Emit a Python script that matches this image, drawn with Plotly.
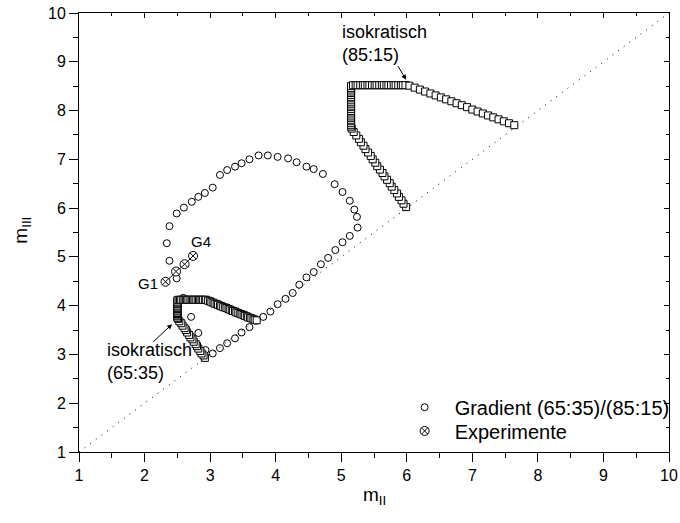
import plotly.graph_objects as go

# Gradient operating points (65:35)/(85:15): m_II, m_III
grad_m2 = [2.93, 2.82, 2.71, 2.59, 2.49, 2.38, 2.34, 2.38,
           2.49, 2.60, 2.72, 2.82, 2.92, 3.04, 3.15, 3.26, 3.38, 3.48, 3.60, 3.74,
           3.88, 4.03, 4.19, 4.32, 4.47, 4.58, 4.72, 4.90, 5.02, 5.13, 5.20, 5.24, 5.25,
           5.13, 5.02, 4.91, 4.80, 4.69, 4.58, 4.47, 4.36, 4.26, 4.15, 4.03, 3.92,
           3.81, 3.70, 3.60, 3.48, 3.38, 3.26, 3.15, 3.04]
grad_m3 = [3.09, 3.44, 3.77, 4.16, 4.56, 4.92, 5.28, 5.63,
           5.89, 6.01, 6.13, 6.23, 6.31, 6.42, 6.68, 6.78, 6.85, 6.92, 7.00, 7.08,
           7.08, 7.05, 7.02, 6.94, 6.85, 6.80, 6.70, 6.49, 6.33, 6.15, 5.97, 5.82, 5.60,
           5.43, 5.30, 5.14, 4.98, 4.85, 4.69, 4.58, 4.43, 4.26, 4.14, 4.03, 3.88,
           3.77, 3.69, 3.56, 3.45, 3.33, 3.23, 3.13, 3.02]

# Isocratic (85:15) operating points
iso85_m2 = [5.99, 5.95, 5.92, 5.88, 5.85, 5.81, 5.77, 5.74, 5.70, 5.66, 5.63, 5.59,
            5.55, 5.52, 5.48, 5.45, 5.41, 5.37, 5.34, 5.30, 5.27, 5.23, 5.19, 5.16,
            5.15, 5.15, 5.15, 5.15, 5.15, 5.15, 5.15, 5.15, 5.15, 5.15, 5.15, 5.15,
            5.15, 5.15, 5.15, 5.15, 5.15, 5.15, 5.15, 5.15, 5.15, 5.15, 5.15, 5.15,
            5.18, 5.22, 5.25, 5.29, 5.33, 5.36, 5.40, 5.43, 5.47, 5.51, 5.54, 5.58,
            5.62, 5.65, 5.69, 5.72, 5.76, 5.80, 5.83, 5.87, 5.91, 5.94, 5.98,
            6.04, 6.12, 6.20, 6.28, 6.36, 6.44, 6.52, 6.60, 6.68, 6.76, 6.84, 6.92,
            7.00, 7.08, 7.16, 7.24, 7.32, 7.40, 7.48, 7.56, 7.64]
iso85_m3 = [6.02, 6.09, 6.16, 6.23, 6.30, 6.37, 6.44, 6.51, 6.58, 6.65, 6.72, 6.79,
            6.86, 6.93, 7.00, 7.07, 7.14, 7.21, 7.28, 7.35, 7.42, 7.49, 7.56, 7.63,
            7.67, 7.70, 7.74, 7.78, 7.81, 7.85, 7.88, 7.92, 7.96, 7.99, 8.03, 8.07,
            8.10, 8.14, 8.17, 8.21, 8.25, 8.28, 8.32, 8.36, 8.39, 8.43, 8.46, 8.50,
            8.52, 8.52, 8.52, 8.52, 8.52, 8.52, 8.52, 8.52, 8.52, 8.52, 8.52, 8.52,
            8.52, 8.52, 8.52, 8.52, 8.52, 8.52, 8.52, 8.52, 8.52, 8.52, 8.52,
            8.51, 8.47, 8.43, 8.39, 8.35, 8.31, 8.27, 8.23, 8.19, 8.15, 8.11, 8.07,
            8.02, 7.98, 7.94, 7.90, 7.86, 7.82, 7.78, 7.74, 7.70]

# Isocratic (65:35) operating points
iso65_m2 = [2.92, 2.90, 2.87, 2.85, 2.82, 2.80, 2.78, 2.75, 2.73, 2.70, 2.68, 2.65,
            2.63, 2.61, 2.58, 2.56, 2.53, 2.51,
            2.50, 2.50, 2.50, 2.50, 2.50, 2.50, 2.50, 2.50, 2.50, 2.50, 2.50, 2.50,
            2.50, 2.50, 2.50,
            2.52, 2.54, 2.56, 2.59, 2.61, 2.63, 2.65, 2.67, 2.70, 2.72, 2.74, 2.76,
            2.78, 2.81, 2.83, 2.85, 2.87, 2.89, 2.92, 2.94,
            2.97, 3.00, 3.02, 3.05, 3.07, 3.10, 3.12, 3.15, 3.17, 3.20, 3.23, 3.25,
            3.28, 3.30, 3.33, 3.35, 3.38, 3.40, 3.43, 3.46, 3.48, 3.51, 3.53, 3.56,
            3.58, 3.61, 3.63, 3.66, 3.68, 3.71]
iso65_m3 = [2.93, 2.98, 3.02, 3.07, 3.12, 3.17, 3.21, 3.26, 3.31, 3.35, 3.40, 3.45,
            3.50, 3.54, 3.59, 3.64, 3.68, 3.73,
            3.75, 3.78, 3.80, 3.83, 3.85, 3.88, 3.90, 3.93, 3.95, 3.98, 4.00, 4.03,
            4.05, 4.08, 4.11,
            4.12, 4.12, 4.12, 4.12, 4.12, 4.12, 4.12, 4.12, 4.12, 4.12, 4.12, 4.12,
            4.12, 4.12, 4.12, 4.12, 4.12, 4.12, 4.12, 4.12,
            4.10, 4.09, 4.07, 4.06, 4.04, 4.03, 4.02, 4.00, 3.99, 3.97, 3.96, 3.95,
            3.93, 3.92, 3.90, 3.89, 3.88, 3.86, 3.85, 3.83, 3.82, 3.81, 3.79, 3.78,
            3.76, 3.75, 3.74, 3.72, 3.71, 3.70]

# Experimental runs G1..G4
exp_m2 = [2.32, 2.48, 2.61, 2.74]
exp_m3 = [4.49, 4.70, 4.85, 5.02]
exp_names = ["G1", "G2", "G3", "G4"]

# Diagonal m_II = m_III
diag = [1, 10]
axis_range = [1, 10]

FONT = "Liberation Sans, Arial, sans-serif"

fig = go.Figure()

fig.add_trace(go.Scatter(
    x=diag, y=diag, xaxis="x2", yaxis="y2", mode="lines",
    line=dict(color="black", width=1, dash="1px,6px"),
    showlegend=False, hoverinfo="skip"))

fig.add_trace(go.Scatter(
    x=grad_m2, y=grad_m3, mode="markers", name="Gradient (65:35)/(85:15)",
    legend="legend",
    marker=dict(symbol="circle", size=7, color="white",
                line=dict(color="black", width=1))))

fig.add_trace(go.Scatter(
    x=iso85_m2, y=iso85_m3, mode="markers", showlegend=False,
    marker=dict(symbol="square", size=7, color="white",
                line=dict(color="black", width=1))))

fig.add_trace(go.Scatter(
    x=iso65_m2, y=iso65_m3, mode="markers", showlegend=False,
    marker=dict(symbol="square", size=7, color="white",
                line=dict(color="black", width=1))))

# thin connector between the runs
fig.add_trace(go.Scatter(
    x=exp_m2, y=exp_m3, mode="lines", showlegend=False,
    line=dict(color="black", width=1), hoverinfo="skip"))

fig.add_trace(go.Scatter(
    x=exp_m2, y=exp_m3, mode="markers", name="Experimente",
    legend="legend2", text=exp_names,
    marker=dict(symbol="circle-x", size=9, color="white",
                line=dict(color="black", width=1))))

common = dict(range=axis_range, showgrid=False, zeroline=False,
              showline=True, linecolor="black", linewidth=1)

legend_style = dict(xanchor="left", yanchor="middle", itemwidth=50,
                    bgcolor="rgba(0,0,0,0)", font=dict(size=20, family=FONT))

fig.update_layout(
    width=680, height=523,
    margin=dict(l=79, r=11, t=13, b=71, autoexpand=False),
    paper_bgcolor="white", plot_bgcolor="white",
    font=dict(family=FONT, color="black"),
    xaxis=dict(**common, tickmode="array", tickvals=list(range(1, 11)),
               ticks="outside", ticklen=9, tickwidth=1, tickcolor="black",
               tickfont=dict(size=16, family=FONT),
               minor=dict(dtick=0.5, tick0=1, ticks="outside", ticklen=5,
                          tickwidth=1, tickcolor="black")),
    yaxis=dict(**common, tickmode="array", tickvals=list(range(1, 11)),
               ticks="outside", ticklen=9, tickwidth=1, tickcolor="black",
               tickfont=dict(size=16, family=FONT),
               minor=dict(dtick=0.5, tick0=1, ticks="outside", ticklen=5,
                          tickwidth=1, tickcolor="black")),
    xaxis2=dict(**common, overlaying="x", side="top", anchor="y2",
                showticklabels=False, dtick=1, tick0=1,
                ticks="inside", ticklen=5, tickwidth=1, tickcolor="black",
                minor=dict(dtick=0.5, tick0=1, ticks="inside", ticklen=3,
                           tickwidth=1, tickcolor="black")),
    yaxis2=dict(**common, overlaying="y", side="right", anchor="x2",
                showticklabels=False, dtick=1, tick0=1,
                ticks="inside", ticklen=5, tickwidth=1, tickcolor="black",
                minor=dict(dtick=0.5, tick0=1, ticks="inside", ticklen=3,
                           tickwidth=1, tickcolor="black")),
    legend=dict(**legend_style, x=0.535, y=0.102),
    legend2=dict(**legend_style, x=0.535, y=0.048),
    showlegend=True,
)

annotations = [
    # axis titles
    dict(text="m<sub>II</sub>", xref="paper", yref="paper", x=0.5, y=-0.1,
         showarrow=False, font=dict(size=19), xanchor="center", yanchor="middle"),
    dict(text="m<sub>III</sub>", xref="paper", yref="paper", x=-0.097, y=0.506,
         showarrow=False, font=dict(size=19), textangle=-90,
         xanchor="center", yanchor="middle"),
    # isocratic (85:15) label, arrow points at the plateau corner
    dict(text="isokratisch<br>(85:15)", x=5.99, y=8.63, ax=5.66, ay=9.385,
         xref="x", yref="y", axref="x", ayref="y", align="left",
         showarrow=True, arrowhead=2, arrowsize=1, arrowwidth=1,
         arrowcolor="black", standoff=0, font=dict(size=18)),
    # isocratic (65:35) label and its arrow
    dict(text="isokratisch<br>(65:35)", x=1.397, y=2.86, xref="x", yref="y",
         showarrow=False, align="left", xanchor="left", yanchor="middle",
         font=dict(size=18)),
    dict(text="", x=2.42, y=3.62, ax=2.11, ay=3.23, xref="x", yref="y",
         axref="x", ayref="y", showarrow=True, arrowhead=2, arrowsize=1,
         arrowwidth=1, arrowcolor="black", standoff=0),
    # run labels
    dict(text=exp_names[0], x=2.06, y=4.46, xref="x", yref="y", showarrow=False,
         font=dict(size=15)),
    dict(text=exp_names[-1], x=2.86, y=5.32, xref="x", yref="y", showarrow=False,
         font=dict(size=15)),
]
fig.update_layout(annotations=annotations)

fig.write_html("out.html")
